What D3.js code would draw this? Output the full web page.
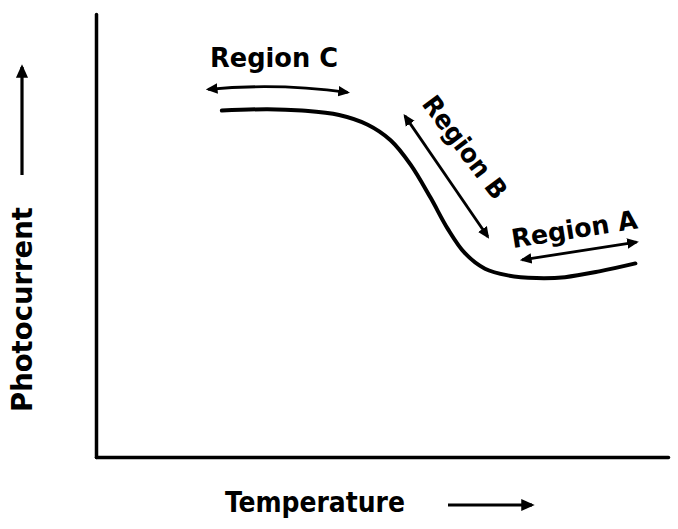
<!DOCTYPE html>
<html>
<head>
<meta charset="utf-8">
<script src="https://cdn.jsdelivr.net/npm/d3@7"></script>
<style>
  body { margin: 0; background: #fff; }
  text { font-family: "DejaVu Sans Condensed", "DejaVu Sans", sans-serif; font-weight: bold; fill: #000; }
</style>
</head>
<body>
<svg width="678" height="529"></svg>
<script>
// schematic curve, arbitrary units (temperature 0-100, photocurrent 0-100)
var temperature  = [22, 30, 36, 42.5, 47.5, 51.5, 55, 58.5, 61.5, 64.5, 68, 72, 77, 82, 88, 94.3];
var photocurrent = [78.2, 78.5, 78.2, 77.2, 75, 71.5, 66, 58.5, 51.5, 46, 42.5, 41, 40.4, 40.6, 41.9, 43.7];

// region arrows (start/end in data units)
var regionNames = ["Region C", "Region B", "Region A"];
var regionArrowT = [[19.6, 44.0], [54.0, 68.5], [74.5, 94.5]];
var regionArrowP = [[83.0, 82.3], [77.0, 49.7], [44.5, 48.5]];

var svg = d3.select("svg"),
    margin = {top: 14, right: 10, bottom: 72, left: 96},
    width = +svg.attr("width") - margin.left - margin.right,
    height = +svg.attr("height") - margin.top - margin.bottom;

var x = d3.scaleLinear().domain([0, 100]).range([margin.left, margin.left + width]),
    y = d3.scaleLinear().domain([0, 100]).range([margin.top + height, margin.top]);

var defs = svg.append("defs");
defs.append("marker")
    .attr("id", "head")
    .attr("viewBox", "0 0 10 10")
    .attr("refX", 8).attr("refY", 5)
    .attr("markerWidth", 4.2).attr("markerHeight", 4.2)
    .attr("markerUnits", "strokeWidth")
    .attr("orient", "auto-start-reverse")
    .append("path")
    .attr("d", "M0,0.5 L10,5 L0,9.5 Z")
    .attr("fill", "#000");

// axes: plain L-shaped frame, no ticks
var axisY = d3.axisLeft(y).tickValues([]).tickSizeOuter(0);
var axisX = d3.axisBottom(x).tickValues([]).tickSizeOuter(0);

svg.append("g")
    .attr("transform", "translate(" + margin.left + ",0)")
    .call(axisY)
    .select(".domain").attr("stroke-width", 3.5).attr("stroke-linecap", "round");

svg.append("g")
    .attr("transform", "translate(0," + (margin.top + height) + ")")
    .call(axisX)
    .select(".domain").attr("stroke-width", 3.5).attr("stroke-linecap", "round");

// the curve
var line = d3.line()
    .x(function(d, i) { return x(temperature[i]); })
    .y(function(d, i) { return y(photocurrent[i]); })
    .curve(d3.curveCatmullRom.alpha(0.5));

svg.append("path")
    .datum(temperature)
    .attr("d", line)
    .attr("fill", "none")
    .attr("stroke", "#000")
    .attr("stroke-width", 4)
    .attr("stroke-linecap", "round");

// double-headed region arrows
regionNames.forEach(function(name, i) {
    var x0 = x(regionArrowT[i][0]), x1 = x(regionArrowT[i][1]),
        y0 = y(regionArrowP[i][0]), y1 = y(regionArrowP[i][1]);
    var mx = (x0 + x1) / 2, my = (y0 + y1) / 2;
    var bow = i === 0 ? -4 : 0;
    svg.append("path")
        .attr("d", "M" + x0 + "," + y0 + " Q" + mx + "," + (my + bow * 2) + " " + x1 + "," + y1)
        .attr("fill", "none")
        .attr("stroke", "#000")
        .attr("stroke-width", 2.8)
        .attr("marker-start", "url(#head)")
        .attr("marker-end", "url(#head)");
});

// region labels
svg.append("text")
    .attr("x", 210).attr("y", 67)
    .attr("font-size", 26)
    .attr("textLength", 128).attr("lengthAdjust", "spacingAndGlyphs")
    .text(regionNames[0]);

svg.append("text")
    .attr("transform", "translate(421,104) rotate(53)")
    .attr("font-size", 26)
    .attr("textLength", 122).attr("lengthAdjust", "spacingAndGlyphs")
    .text(regionNames[1]);

svg.append("text")
    .attr("transform", "translate(513,248) rotate(-9)")
    .attr("font-size", 26)
    .attr("textLength", 127).attr("lengthAdjust", "spacingAndGlyphs")
    .text(regionNames[2]);

// axis titles with arrows
svg.append("text")
    .attr("transform", "translate(32,412) rotate(-90)")
    .attr("font-size", 28)
    .attr("textLength", 205).attr("lengthAdjust", "spacingAndGlyphs")
    .text("Photocurrent");

svg.append("line")
    .attr("x1", 22).attr("y1", 175).attr("x2", 22).attr("y2", 67)
    .attr("stroke", "#000").attr("stroke-width", 3.2)
    .attr("marker-end", "url(#head)");

svg.append("text")
    .attr("x", 225).attr("y", 512)
    .attr("font-size", 28)
    .attr("textLength", 180).attr("lengthAdjust", "spacingAndGlyphs")
    .text("Temperature");

svg.append("line")
    .attr("x1", 448).attr("y1", 505).attr("x2", 532).attr("y2", 505)
    .attr("stroke", "#000").attr("stroke-width", 3.2)
    .attr("marker-end", "url(#head)");
</script>
</body>
</html>
